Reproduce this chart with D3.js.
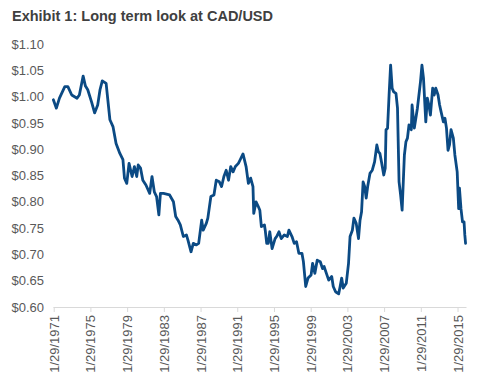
<!DOCTYPE html>
<html>
  <head>
    <meta charset="utf-8">
    <title>CAD/USD</title>
    <style>
      body { margin: 0; background-color: #fff; }
      svg text { font-family: "Liberation Sans", Arial, sans-serif; }
    </style>
  </head>
  <body>
<svg width="480" height="384"></svg>
<script src="https://d3js.org/d3.v7.min.js"></script>
<script>

// monthly points (USD per CAD)
var months = [
  "1971-01","1971-05","1971-09","1972-04","1972-08","1973-01","1973-08","1973-11",
  "1974-04","1974-07","1974-10","1975-03","1975-07","1975-11","1976-02","1976-05",
  "1976-10","1977-03","1977-07","1977-11","1978-04","1978-08","1978-10","1979-01",
  "1979-04","1979-08","1979-11","1980-02","1980-04","1980-07","1980-10","1981-02",
  "1981-07","1981-10","1982-01","1982-04","1982-07","1982-09","1983-01","1983-09",
  "1984-02","1984-05","1984-08","1984-11","1985-03","1985-07","1985-09","1986-01",
  "1986-04","1986-08","1986-11","1987-03","1987-05","1987-09","1987-11","1988-03",
  "1988-07","1988-10","1989-02","1989-05","1989-08","1989-11","1990-02","1990-05",
  "1990-08","1990-11","1991-03","1991-05","1991-09","1992-01","1992-04","1992-07",
  "1992-10","1992-11","1993-02","1993-05","1993-07","1993-09","1994-01","1994-02",
  "1994-04","1994-06","1994-08","1994-11","1995-03","1995-05","1995-08","1995-11",
  "1996-03","1996-07","1996-09","1997-01","1997-04","1997-07","1997-10","1998-02",
  "1998-04","1998-07","1998-10","1999-02","1999-04","1999-07","1999-10","2000-02",
  "2000-05","2000-07","2000-10","2001-01","2001-05","2001-07","2001-10","2002-02",
  "2002-04","2002-06","2002-08","2002-12","2003-03","2003-05","2003-08","2003-10",
  "2004-01","2004-04","2004-06","2004-08","2004-10","2004-12","2005-02","2005-04",
  "2005-07","2005-10","2006-01","2006-04","2006-06","2006-08","2006-10","2007-01",
  "2007-03","2007-04","2007-06","2007-08","2007-10","2007-12","2008-02","2008-05",
  "2008-07","2008-09","2008-11","2009-01","2009-04","2009-06","2009-08","2009-10",
  "2010-01","2010-02","2010-05","2010-07","2010-09","2010-11","2011-01","2011-03",
  "2011-05","2011-08","2011-10","2011-12","2012-02","2012-05","2012-07","2012-09",
  "2012-12","2013-02","2013-04","2013-07","2013-09","2013-11","2014-01","2014-03",
  "2014-05","2014-08","2014-10","2015-01","2015-03","2015-04","2015-06","2015-08",
  "2015-10","2015-11","2015-12"
];

var rates = [
  0.994,0.978,0.997,1.019,1.019,1.003,0.997,1.003,
  1.039,1.020,1.013,0.990,0.969,0.984,1.013,1.030,
  1.025,0.956,0.943,0.911,0.892,0.880,0.845,0.835,
  0.873,0.848,0.867,0.848,0.870,0.864,0.841,0.832,
  0.816,0.848,0.819,0.810,0.775,0.816,0.816,0.813,
  0.800,0.772,0.765,0.756,0.734,0.737,0.727,0.705,
  0.721,0.718,0.721,0.765,0.746,0.759,0.769,0.810,
  0.813,0.841,0.838,0.829,0.848,0.860,0.841,0.867,
  0.857,0.867,0.873,0.879,0.891,0.867,0.835,0.845,
  0.829,0.778,0.800,0.791,0.784,0.753,0.756,0.746,
  0.721,0.721,0.743,0.711,0.730,0.734,0.743,0.730,
  0.737,0.734,0.746,0.734,0.721,0.724,0.702,0.702,
  0.686,0.639,0.655,0.661,0.683,0.664,0.689,0.686,
  0.673,0.677,0.664,0.651,0.658,0.639,0.629,0.625,
  0.639,0.655,0.636,0.645,0.683,0.734,0.746,0.769,
  0.759,0.730,0.765,0.781,0.838,0.829,0.807,0.829,
  0.854,0.860,0.876,0.908,0.895,0.892,0.876,0.851,
  0.864,0.937,0.940,1.003,1.060,1.016,1.009,1.006,
  0.978,0.838,0.813,0.784,0.889,0.914,0.921,0.946,
  0.937,0.984,0.940,0.959,0.978,1.003,1.028,1.060,
  1.035,0.952,0.997,0.984,0.965,1.016,1.003,1.016,
  1.003,0.984,0.971,0.952,0.959,0.940,0.898,0.908,
  0.937,0.921,0.889,0.857,0.787,0.826,0.787,0.762,
  0.762,0.737,0.721
];

var tickYears = [1971, 1975, 1979, 1983, 1987, 1991, 1995, 1999, 2003, 2007, 2011, 2015];
var yTicks = [0.60, 0.65, 0.70, 0.75, 0.80, 0.85, 0.90, 0.95, 1.00, 1.05, 1.10];

var parseMonth = d3.timeParse("%Y-%m-%d");
var data = months.map(function(m, i) {
  return {date: parseMonth(m + "-15"), rate: rates[i]};
});

var svg = d3.select("svg");

var x = d3.scaleTime()
    .domain([new Date(1971, 0, 1), new Date(2016, 0, 1)])
    .range([53, 466]);

var y = d3.scaleLinear()
    .domain([0.60, 1.10])
    .range([307, 44]);

svg.append("text")
    .attr("x", 12)
    .attr("y", 21)
    .attr("fill", "#404040")
    .style("font-size", "14.5px")
    .style("font-weight", "bold")
    .text("Exhibit 1: Long term look at CAD/USD");

// y axis: labels only
var yAxis = svg.append("g")
    .attr("transform", "translate(44,0)")
    .call(d3.axisLeft(y)
      .tickValues(yTicks)
      .tickSize(0)
      .tickPadding(0)
      .tickFormat(function(d) { return "$" + d3.format(".2f")(d); }));
yAxis.select(".domain").remove();
yAxis.selectAll("text")
    .attr("fill", "#595959")
    .style("font-size", "13px");

// x axis
var xAxis = svg.append("g")
    .attr("transform", "translate(0,307)")
    .call(d3.axisBottom(x)
      .tickValues(tickYears.map(function(yr) { return new Date(yr, 0, 29); }))
      .tickSizeInner(5)
      .tickSizeOuter(0)
      .tickFormat(d3.timeFormat("%-m/%-d/%Y")));
xAxis.select(".domain").attr("stroke", "#d9d9d9");
xAxis.selectAll(".tick line").attr("stroke", "#d9d9d9");
xAxis.selectAll("text")
    .attr("fill", "#595959")
    .style("font-size", "13px")
    .style("text-anchor", "end")
    .attr("transform", "rotate(-90)")
    .attr("x", -8)
    .attr("y", 0)
    .attr("dy", "0.35em");

var line = d3.line()
    .x(function(d) { return x(d.date); })
    .y(function(d) { return y(d.rate); });

svg.append("path")
    .datum(data)
    .attr("fill", "none")
    .attr("stroke", "#0b4a84")
    .attr("stroke-width", 2.8)
    .attr("stroke-linejoin", "round")
    .attr("stroke-linecap", "round")
    .attr("d", line);

</script>
  </body>
</html>
